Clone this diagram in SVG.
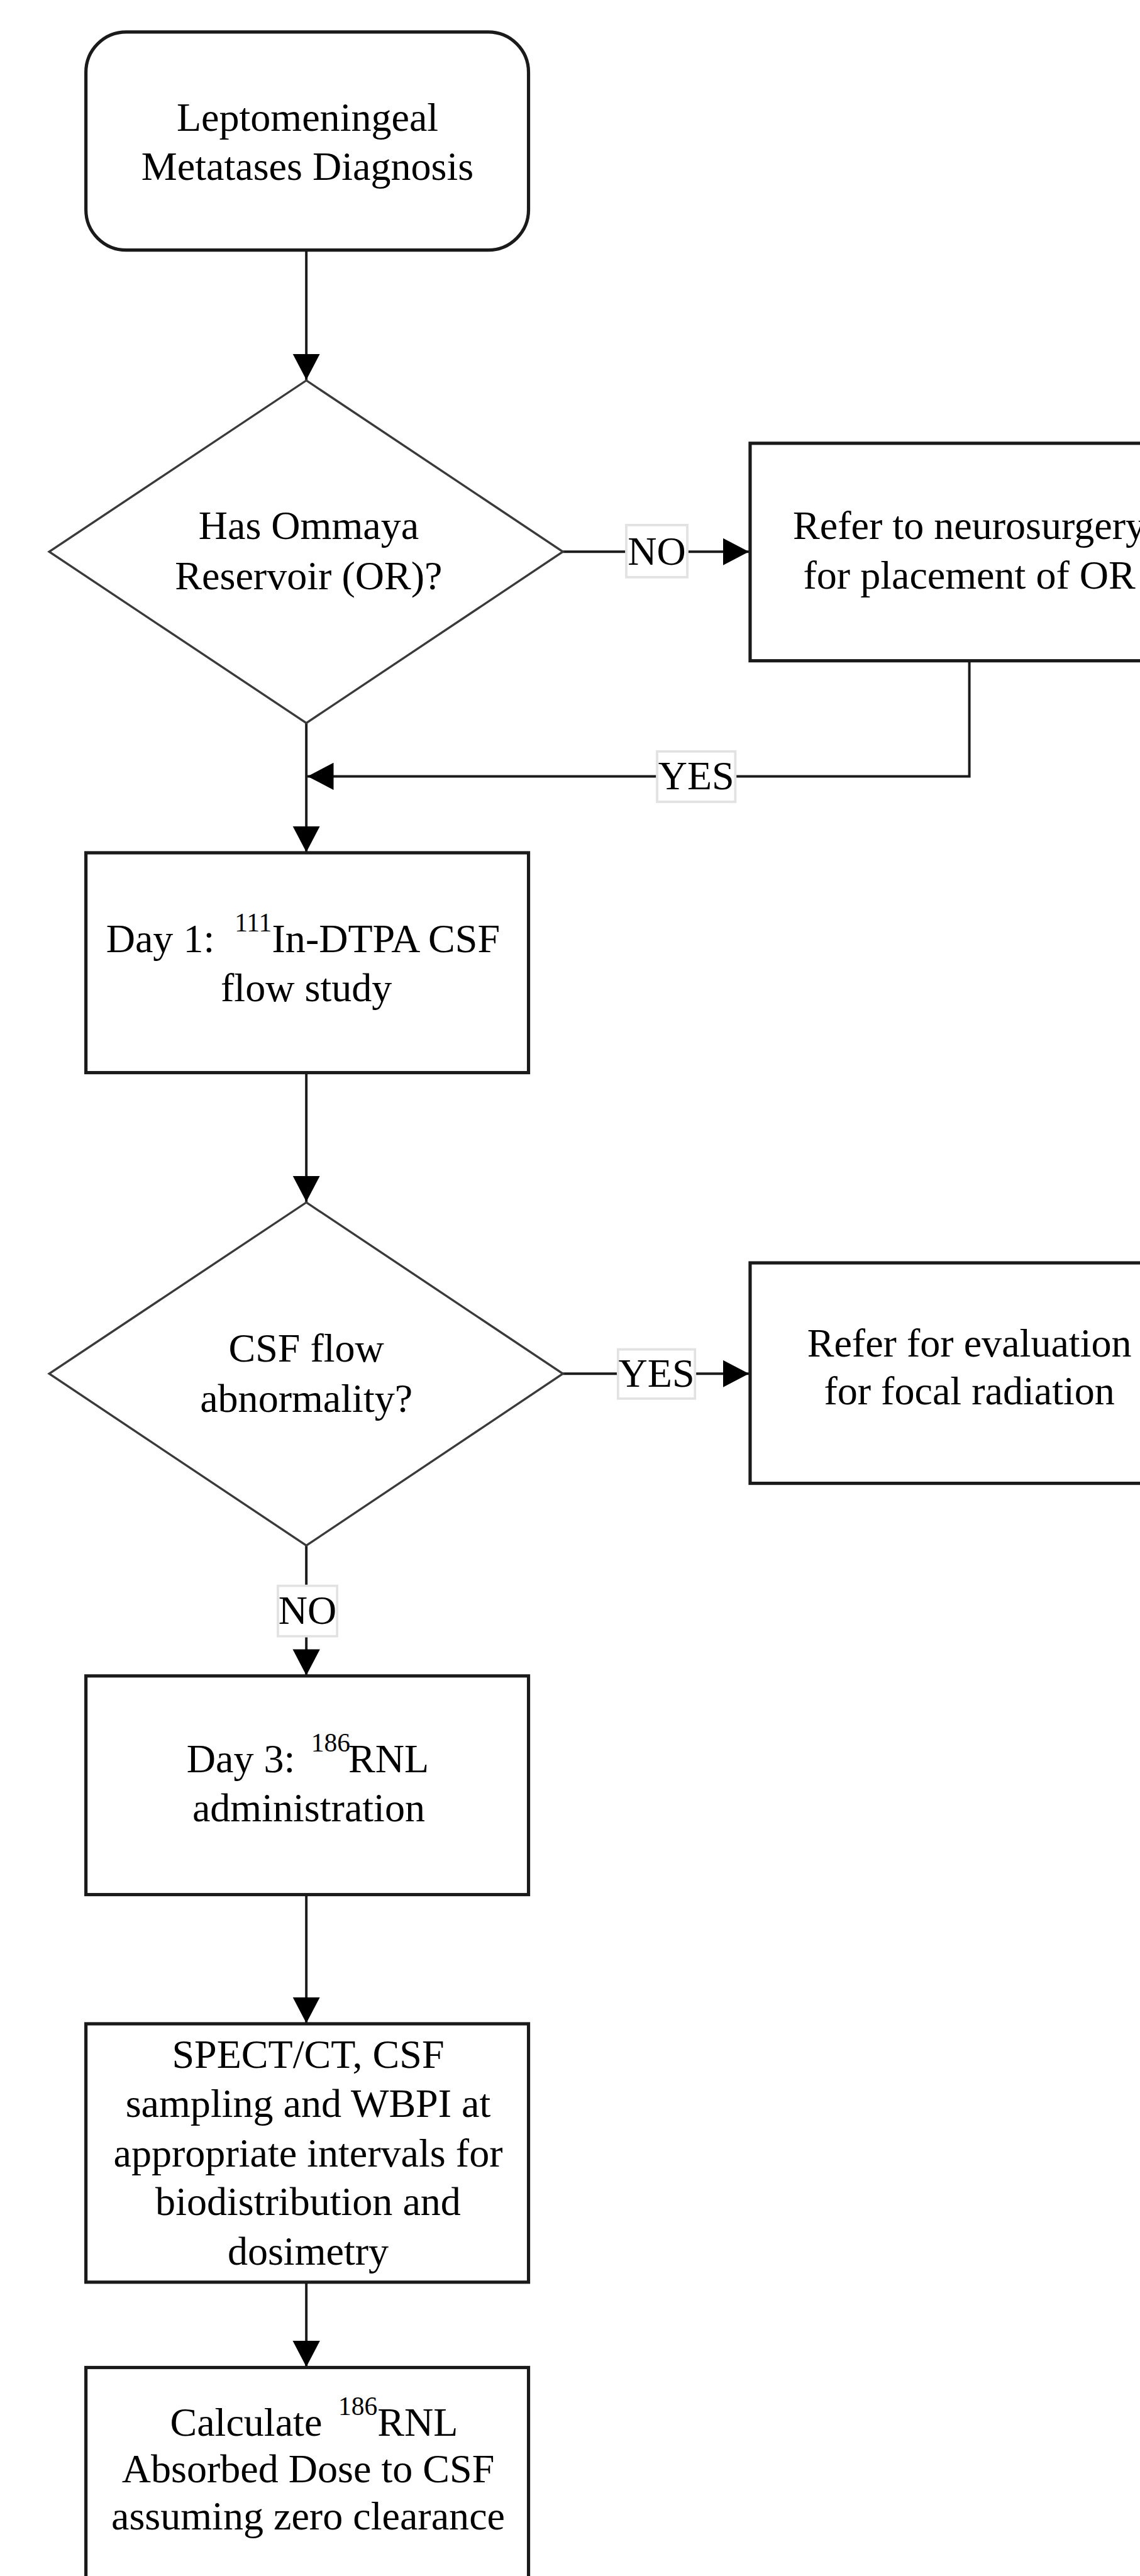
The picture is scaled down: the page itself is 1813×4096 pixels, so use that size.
<svg xmlns="http://www.w3.org/2000/svg" width="1813" height="4096" viewBox="0 0 1813 4096">
<style>
.box{fill:#fff;stroke:#1a1a1a;stroke-width:5.5}
.dia{fill:#fff;stroke:#3a3a3a;stroke-width:3.6}
.con{fill:none;stroke:#1a1a1a;stroke-width:4.2}
.lbl{fill:#fff;stroke:#e2e2e2;stroke-width:4}
.t{font-family:"Liberation Serif","Times New Roman",serif;font-size:68px;fill:#000}
.m{text-anchor:middle}
.sup{font-size:44px}
</style>
<defs>
<marker id="arr" markerUnits="userSpaceOnUse" markerWidth="46" markerHeight="46" refX="44" refY="23" orient="auto" viewBox="0 0 46 46">
<path d="M0,0 L44,23 L0,46 Z" fill="#000"/>
</marker>
</defs>
<rect width="1813" height="4096" fill="#fff"/>
<g transform="scale(0.9423)">
<g id="connectors">
<path class="con" d="M517,422 V641" marker-end="url(#arr)"/>
<path class="con" d="M950,931 H1264" marker-end="url(#arr)"/>
<rect class="lbl" x="1057" y="886" width="103" height="88"/>
<text class="t m" x="1108.5" y="953">NO</text>
<path class="con" d="M1636,1115 V1310 H519" marker-end="url(#arr)"/>
<rect class="lbl" x="1109" y="1268" width="132" height="85"/>
<text class="t m" x="1175" y="1332">YES</text>
<path class="con" d="M517,1220 V1438" marker-end="url(#arr)"/>
<path class="con" d="M517,1810 V2028" marker-end="url(#arr)"/>
<path class="con" d="M950,2318 H1264" marker-end="url(#arr)"/>
<rect class="lbl" x="1043" y="2277" width="130" height="83"/>
<text class="t m" x="1108" y="2340">YES</text>
<path class="con" d="M517,2608 V2827" marker-end="url(#arr)"/>
<rect class="lbl" x="469" y="2676" width="100" height="85"/>
<text class="t m" x="519" y="2740">NO</text>
<path class="con" d="M517,3197 V3414" marker-end="url(#arr)"/>
<path class="con" d="M517,3851 V3994" marker-end="url(#arr)"/>
</g>
<g id="start">
<rect class="box" x="145" y="54" width="747" height="368" rx="68" ry="68"/>
<text class="t m" x="519" y="221">Leptomeningeal</text>
<text class="t m" x="519" y="304">Metatases Diagnosis</text>
</g>
<g id="has-ommaya">
<polygon class="dia" points="517,642 950,931 517,1220 83,931"/>
<text class="t m" x="521" y="910">Has Ommaya</text>
<text class="t m" x="521" y="994">Reservoir (OR)?</text>
</g>
<g id="refer-neurosurgery">
<rect class="box" x="1266" y="748" width="740" height="367"/>
<text class="t m" x="1636" y="910">Refer to neurosurgery</text>
<text class="t m" x="1636" y="993">for placement of OR</text>
</g>
<g id="day1">
<rect class="box" x="145" y="1439" width="747" height="371"/>
<text class="t" x="179" y="1607">Day 1:<tspan class="sup" x="396" y="1572">111</tspan><tspan x="459" y="1607">In-DTPA CSF</tspan></text>
<text class="t m" x="517" y="1690">flow study</text>
</g>
<g id="csf-abnormality">
<polygon class="dia" points="517,2029 950,2318 517,2608 83,2318"/>
<text class="t m" x="517" y="2298">CSF flow</text>
<text class="t m" x="517" y="2382">abnormality?</text>
</g>
<g id="refer-radiation">
<rect class="box" x="1266" y="2131" width="740" height="372"/>
<text class="t m" x="1636" y="2289">Refer for evaluation</text>
<text class="t m" x="1636" y="2370">for focal radiation</text>
</g>
<g id="day3">
<rect class="box" x="145" y="2828" width="747" height="369"/>
<text class="t" x="315" y="2991">Day 3:<tspan class="sup" x="525" y="2956">186</tspan><tspan x="588" y="2991">RNL</tspan></text>
<text class="t m" x="521" y="3073">administration</text>
</g>
<g id="spect">
<rect class="box" x="145" y="3415" width="747" height="436"/>
<text class="t m" x="520" y="3489">SPECT/CT, CSF</text>
<text class="t m" x="520" y="3572">sampling and WBPI at</text>
<text class="t m" x="520" y="3656">appropriate intervals for</text>
<text class="t m" x="520" y="3738">biodistribution and</text>
<text class="t m" x="520" y="3822">dosimetry</text>
</g>
<g id="calculate">
<rect class="box" x="145" y="3995" width="747" height="420"/>
<text class="t" x="287" y="4110">Calculate<tspan class="sup" x="571" y="4075">186</tspan><tspan x="637" y="4110">RNL</tspan></text>
<text class="t m" x="520" y="4189">Absorbed Dose to CSF</text>
<text class="t m" x="520" y="4268">assuming zero clearance</text>
</g>
</g>
</svg>
